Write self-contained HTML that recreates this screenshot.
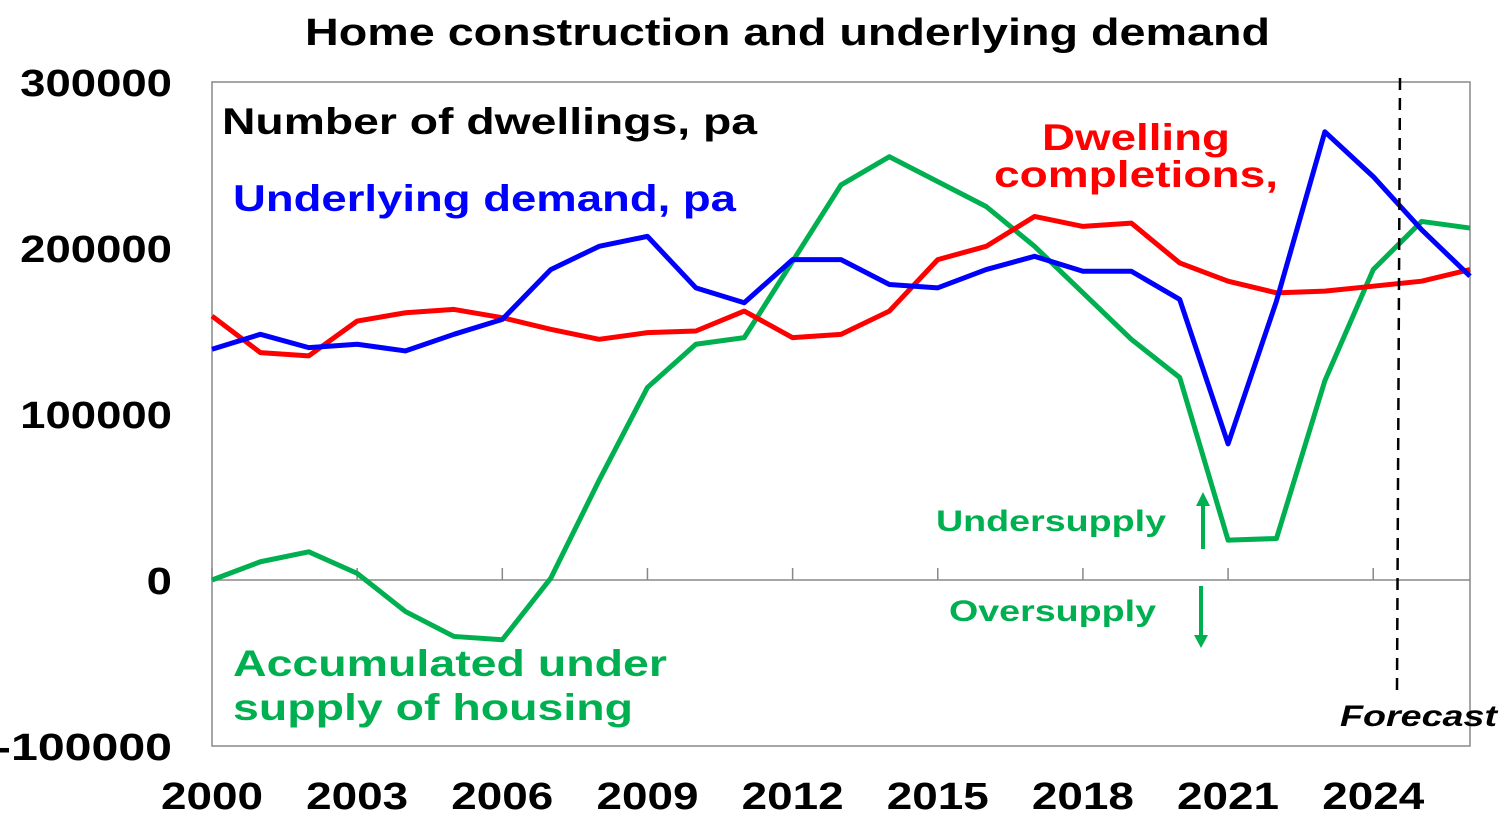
<!DOCTYPE html>
<html><head><meta charset="utf-8"><style>
body{margin:0;background:#fff;}
svg text{font-family:"Liberation Sans",Arial,sans-serif;font-weight:bold;}
</style></head><body>
<svg id="chart" width="1512" height="813" xmlns="http://www.w3.org/2000/svg">
<text x="305" y="45" font-size="38" textLength="965" lengthAdjust="spacingAndGlyphs">Home construction and underlying demand</text>
<rect x="212" y="82" width="1258" height="664" fill="none" stroke="#888" stroke-width="1.5"/>
<g id="axes"></g>
<g id="series"></g>
<line x1="1400" y1="78" x2="1397" y2="690" stroke="#000" stroke-width="2.5" stroke-dasharray="12,8"/>
<text x="1340" y="726" font-size="30" font-style="italic" textLength="157" lengthAdjust="spacingAndGlyphs">Forecast</text>
<text x="222" y="134" font-size="37" textLength="535" lengthAdjust="spacingAndGlyphs">Number of dwellings, pa</text>
<text x="233" y="211" font-size="37" fill="#0000ff" textLength="503" lengthAdjust="spacingAndGlyphs">Underlying demand, pa</text>
<text x="1042" y="150" font-size="37" fill="#ff0000" textLength="188" lengthAdjust="spacingAndGlyphs">Dwelling</text>
<text x="994" y="187" font-size="37" fill="#ff0000" textLength="284" lengthAdjust="spacingAndGlyphs">completions,</text>
<text x="233" y="676" font-size="37" fill="#00b050" textLength="434" lengthAdjust="spacingAndGlyphs">Accumulated under</text>
<text x="233" y="720" font-size="37" fill="#00b050" textLength="400" lengthAdjust="spacingAndGlyphs">supply of housing</text>
<text x="936" y="531" font-size="30" fill="#00b050" textLength="230" lengthAdjust="spacingAndGlyphs">Undersupply</text>
<text x="949" y="621" font-size="30" fill="#00b050" textLength="207" lengthAdjust="spacingAndGlyphs">Oversupply</text>
<g><line x1="1203" y1="549" x2="1203" y2="505" stroke="#00b050" stroke-width="4"/><polygon points="1196,506 1210,506 1203,492" fill="#00b050"/></g>
<g><line x1="1201" y1="586" x2="1201" y2="635" stroke="#00b050" stroke-width="4"/><polygon points="1194,635 1208,635 1201,648" fill="#00b050"/></g>
</svg>
<script>
const years=[2000,2001,2002,2003,2004,2005,2006,2007,2008,2009,2010,2011,2012,2013,2014,2015,2016,2017,2018,2019,2020,2021,2022,2023,2024,2025,2026];
const demand=[139000,148000,140000,142000,138000,148000,157000,187000,201000,207000,176000,167000,193000,193000,178000,176000,187000,195000,186000,186000,169000,82000,168000,270000,243000,211000,183000];
const completions=[159000,137000,135000,156000,161000,163000,158000,151000,145000,149000,150000,162000,146000,148000,162000,193000,201000,219000,213000,215000,191000,180000,173000,174000,177000,180000,187000];
const accumulated=[0,11000,17000,4000,-19000,-34000,-36000,1000,60000,116000,142000,146000,192000,238000,255000,240000,225000,201000,173000,145000,122000,24000,25000,120000,187000,216000,212000];
const yTicks=[-100000,0,100000,200000,300000];
const xTickYears=[2000,2003,2006,2009,2012,2015,2018,2021,2024];
const NS='http://www.w3.org/2000/svg';
function xs(yr){return 212+(yr-2000)*(1258/26);}
function ys(v){return 580-v*166/100000;}
const ax=document.getElementById('axes'), se=document.getElementById('series');
function mk(tag,attrs,parent){const e=document.createElementNS(NS,tag);for(const k in attrs)e.setAttribute(k,attrs[k]);parent.appendChild(e);return e;}
const zl=mk('line',{x1:212,x2:1470,y1:ys(0),y2:ys(0),stroke:'#888','stroke-width':1.5},ax);


yTicks.forEach(v=>{
  const s=String(v);
  const t=mk('text',{x:172,y:ys(v)+14,'font-size':38,'text-anchor':'end',textLength:s.length*25.3,lengthAdjust:'spacingAndGlyphs'},ax);
  
  
  t.textContent=s;
});
xTickYears.forEach(yr=>{
  const l=mk('line',{x1:xs(yr),x2:xs(yr),y1:ys(0),y2:ys(0)-12,stroke:'#888','stroke-width':1.5},ax);
  
  
  const t=mk('text',{x:xs(yr)-51,y:809,'font-size':38,textLength:102,lengthAdjust:'spacingAndGlyphs'},ax);
  
  
  t.textContent=yr;
});
function line(vals,color,name){
  const p=mk('polyline',{points:vals.map((v,i)=>xs(years[i])+','+ys(v)).join(' '),fill:'none',stroke:color,'stroke-width':5,'stroke-linejoin':'round'},se);
  
  
}
line(accumulated,'#00b050','accumulated-undersupply-line');
line(completions,'#ff0000','dwelling-completions-line');
line(demand,'#0000ff','underlying-demand-line');
</script>
</body></html>
